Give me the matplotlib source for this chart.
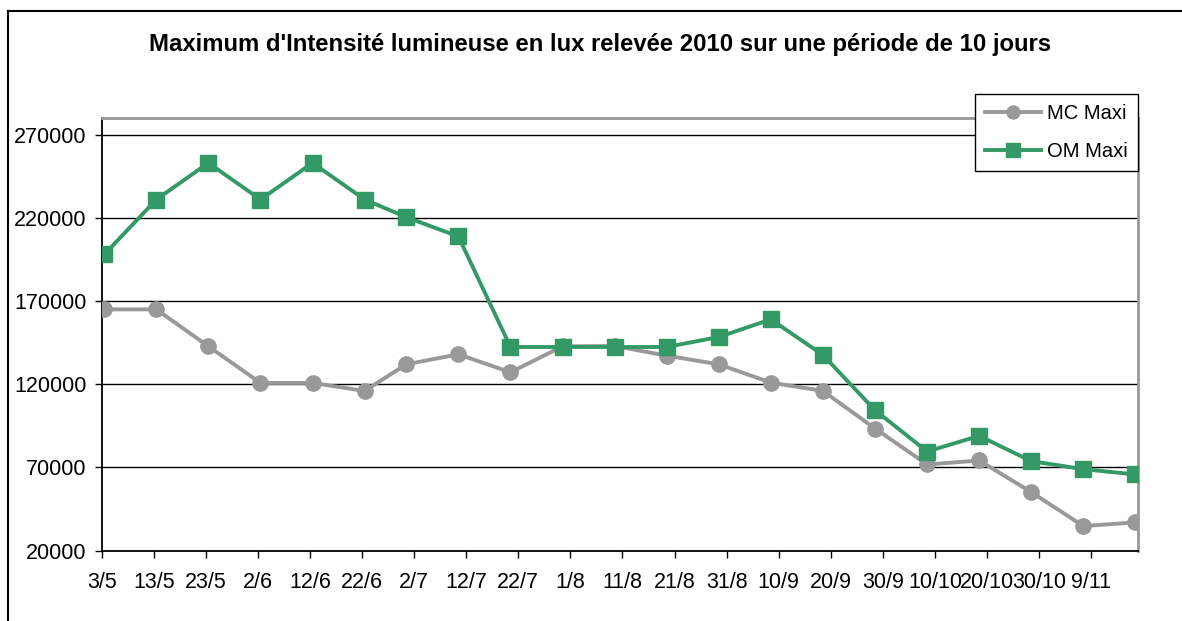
import matplotlib
matplotlib.use("Agg")
import matplotlib.pyplot as plt
import matplotlib.dates as mdates
from matplotlib.lines import Line2D
import pandas as pd

plt.rcParams['font.family'] = ['Liberation Sans', 'DejaVu Sans']

title = "Maximum d'Intensité lumineuse en lux relevée 2010 sur une période de 10 jours"

# measurement dates (day/month, 2010)
dates = ['3/5', '13/5', '23/5', '2/6', '12/6', '22/6', '30/6', '10/7', '20/7', '30/7',
         '9/8', '19/8', '29/8', '8/9', '18/9', '28/9', '8/10', '18/10', '28/10', '7/11', '17/11']

mc_maxi = [165000, 165000, 142800, 120800, 120800, 116000, 132000, 138000, 127200, 142800,
           143000, 137200, 132000, 121000, 116000, 93400, 71800, 74200, 55200, 34800, 37000]
om_maxi = [198000, 231000, 253000, 231000, 253000, 231000, 220400, 208800, 142400, 142400,
           142400, 142400, 148400, 159000, 137600, 104400, 79600, 89000, 73800, 69000, 65800]

tick_labels = ['3/5', '13/5', '23/5', '2/6', '12/6', '22/6', '2/7', '12/7', '22/7', '1/8',
               '11/8', '21/8', '31/8', '10/9', '20/9', '30/9', '10/10', '20/10', '30/10', '9/11']
y_ticks = [20000, 70000, 120000, 170000, 220000, 270000]


def to_num(labels):
    d = pd.to_datetime([s + '/2010' for s in labels], format='%d/%m/%Y')
    return mdates.date2num(d)


# each point sits in the middle of its day slot
x = to_num(dates) + 0.5
xt = to_num(tick_labels)

fig = plt.figure(figsize=(11.82, 6.21), dpi=100)
ax = fig.add_axes([0.0860, 0.1132, 0.8768, 0.6968])

grey = '#999999'
green = '#339966'

ax.plot(x, mc_maxi, color=grey, lw=2.8, marker='o', markersize=11,
        markeredgecolor=grey, label='MC Maxi', zorder=3)
ax.plot(x, om_maxi, color=green, lw=2.8, marker='s', markersize=12,
        markeredgecolor=green, label='OM Maxi', zorder=4)

ax.set_xlim(xt[0], to_num(['18/11'])[0])
ax.set_ylim(20000, 280000)
ax.set_xticks(xt)
ax.set_xticklabels(tick_labels)
ax.set_yticks(y_ticks)
ax.set_yticklabels([str(v) for v in y_ticks])

ax.yaxis.grid(True, color='black', lw=1)
ax.set_axisbelow(True)

ax.tick_params(axis='both', direction='out', length=5, width=1, colors='black',
               labelsize=15.5)
ax.tick_params(axis='y', pad=6)
ax.tick_params(axis='x', pad=10)

for side in ['left', 'bottom']:
    ax.spines[side].set_color('black')
    ax.spines[side].set_linewidth(1.3)
for side in ['top', 'right']:
    ax.spines[side].set_color(grey)
    ax.spines[side].set_linewidth(2)

fig.text(600 / 1182, 1 - 44 / 621, title, ha='center', va='center',
         fontsize=17.2, fontweight='bold')

leg = ax.legend(loc='upper right', bbox_to_anchor=(1138 / 1182, 1 - 94 / 621),
                bbox_transform=fig.transFigure, fontsize=14.5, frameon=True,
                fancybox=False, framealpha=1, edgecolor='black',
                handlelength=2.8, handletextpad=0.3, labelspacing=0.95,
                borderpad=0.5, borderaxespad=0, markerscale=0.85)
leg.get_frame().set_linewidth(1)
leg.set_zorder(10)

# outer chart frame (left and top edges)
fig.add_artist(Line2D([8 / 1182, 8 / 1182], [0, 1 - 10.5 / 621], color='black', lw=1.5,
                      transform=fig.transFigure))
fig.add_artist(Line2D([8 / 1182, 1], [1 - 10.5 / 621, 1 - 10.5 / 621], color='black', lw=1.5,
                      transform=fig.transFigure))

fig.savefig('out.png', dpi=100)
